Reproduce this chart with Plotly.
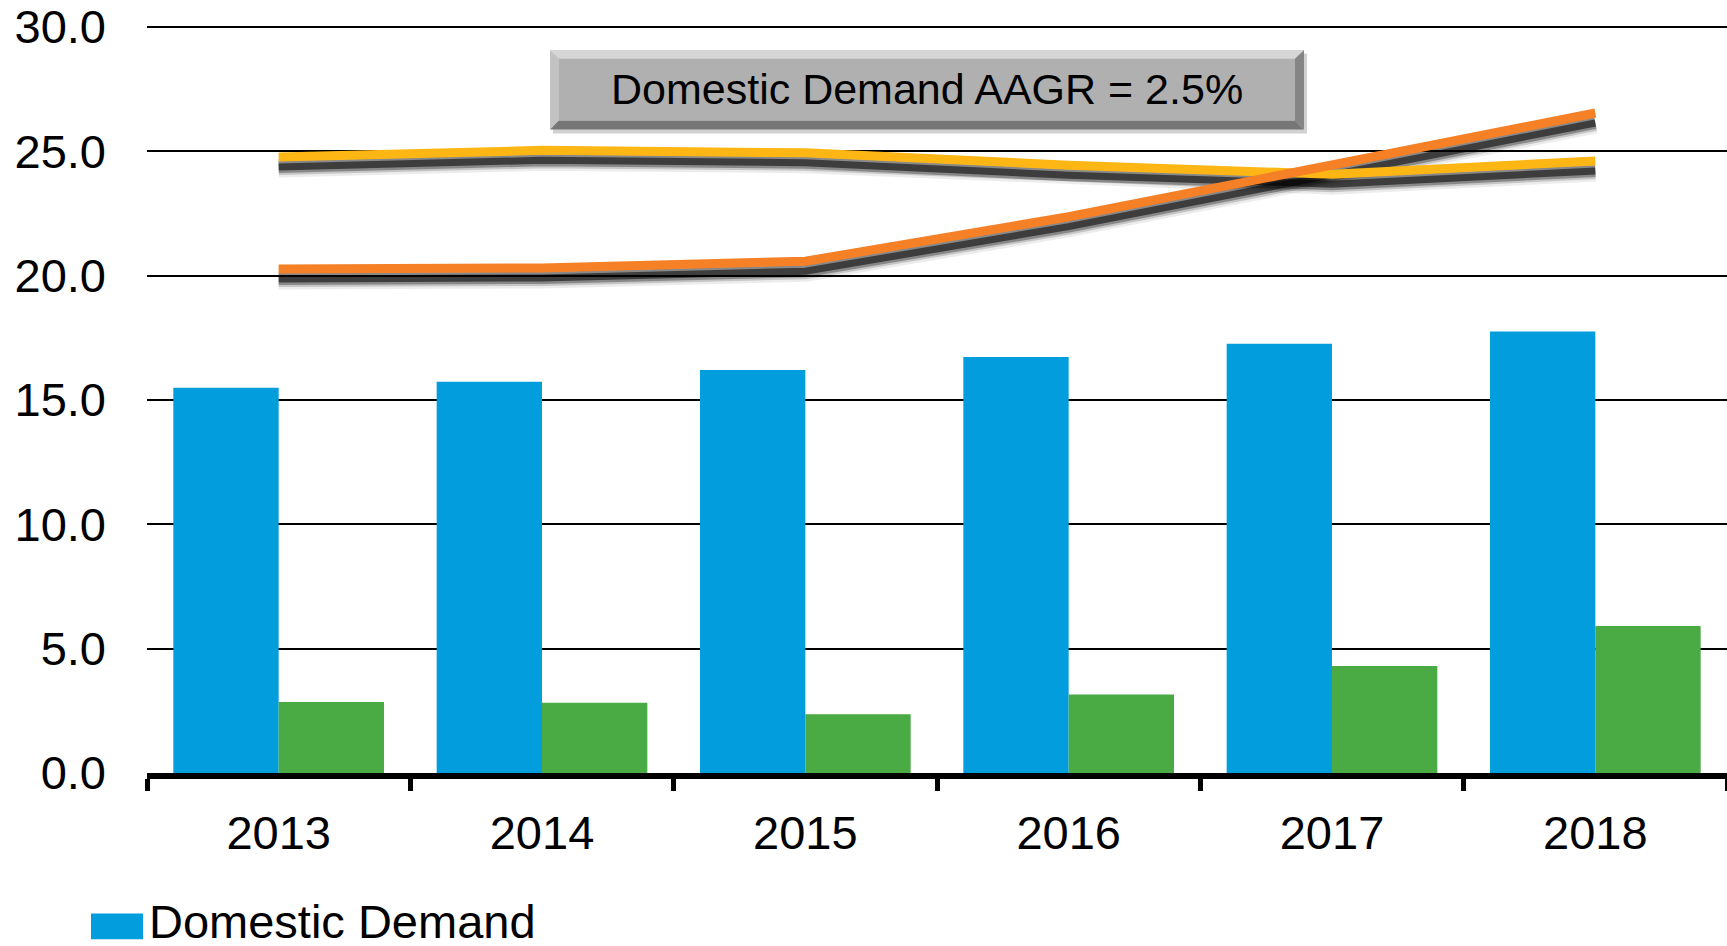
import plotly.graph_objects as go

# ---------------- data ----------------
years = ["2013", "2014", "2015", "2016", "2017", "2018"]
domestic_demand = [15.49, 15.73, 16.21, 16.73, 17.26, 17.75]
series_green = [2.86, 2.82, 2.36, 3.16, 4.30, 5.91]
series_yellow = [24.77, 25.04, 24.94, 24.44, 24.08, 24.61]
series_orange = [20.27, 20.31, 20.58, 22.37, 24.45, 26.54]
y_ticks = [0, 5, 10, 15, 20, 25, 30]
y_tick_labels = ["0.0", "5.0", "10.0", "15.0", "20.0", "25.0", "30.0"]
box_text = "Domestic Demand AAGR = 2.5%"
legend_text = "Domestic Demand"

# ---------------- layout geometry ----------------
W, H = 1727, 946
ML, MR, MT, MB = 147, 0, 18, 173
PW, PH = W - ML - MR, H - MT - MB
FONT = "Liberation Sans, Arial, Helvetica, sans-serif"
YMAX = 30.24
SHADOW_SHIFT = 10 * YMAX / PH  # ~10 px downward in data units


def px_x(p):
    return (p - ML) / PW


def px_y(p):
    return (H - MB - p) / PH


BLUE = "#019ddc"
GREEN = "#4aaa44"
ORANGE = "#f58026"
YELLOW = "#fdb614"

fig = go.Figure()

fig.add_trace(go.Bar(x=years, y=domestic_demand, name=legend_text,
                     marker=dict(color=BLUE, line=dict(width=0))))
fig.add_trace(go.Bar(x=years, y=series_green, name="Series 2",
                     marker=dict(color=GREEN, line=dict(width=0))))

# soft shadows for the lines (drawn on a slightly shifted overlay axis)
for vals in (series_yellow, series_orange):
    for w, op in ((21, 0.07), (16, 0.16), (12, 0.3), (7, 0.55)):
        fig.add_trace(go.Scatter(x=years, y=vals, mode="lines", yaxis="y2",
                                 line=dict(color="#000000", width=w),
                                 opacity=op, hoverinfo="skip", showlegend=False))

fig.add_trace(go.Scatter(x=years, y=series_yellow, mode="lines", yaxis="y3",
                         name="Series 3", line=dict(color=YELLOW, width=9)))
fig.add_trace(go.Scatter(x=years, y=series_orange, mode="lines", yaxis="y3",
                         name="Series 4", line=dict(color=ORANGE, width=9)))

# ---------------- bevelled text box ----------------
bx0, bx1, by0, by1, bev = 550, 1304, 47, 127, 9


def poly(pts, color):
    d = "M " + " L ".join(f"{px_x(a):.5f},{px_y(b):.5f}" for a, b in pts) + " Z"
    return dict(type="path", xref="paper", yref="paper", path=d,
                fillcolor=color, line=dict(width=0), layer="above")


shapes = [
    poly([(bx0 + 3, by0 + 4), (bx1 + 3, by0 + 4), (bx1 + 3, by1 + 4), (bx0 + 3, by1 + 4)], "rgba(0,0,0,0.18)"),
    poly([(bx0, by0), (bx1, by0), (bx1 - bev, by0 + bev), (bx0 + bev, by0 + bev)], "#d6d6d6"),
    poly([(bx0, by0), (bx0 + bev, by0 + bev), (bx0 + bev, by1 - bev), (bx0, by1)], "#c2c2c2"),
    poly([(bx0, by1), (bx0 + bev, by1 - bev), (bx1 - bev, by1 - bev), (bx1, by1)], "#767676"),
    poly([(bx1, by0), (bx1, by1), (bx1 - bev, by1 - bev), (bx1 - bev, by0 + bev)], "#858585"),
    poly([(bx0 + bev, by0 + bev), (bx1 - bev, by0 + bev), (bx1 - bev, by1 - bev), (bx0 + bev, by1 - bev)], "#b0b0b0"),
    # legend swatch
    poly([(91, 914), (143, 914), (143, 940), (91, 940)], BLUE),
]

annotations = [
    dict(text=box_text, xref="paper", yref="paper",
         x=px_x((bx0 + bx1) / 2), y=px_y((by0 + by1) / 2 - 1),
         xanchor="center", yanchor="middle", showarrow=False,
         font=dict(family=FONT, size=43, color="#000")),
    dict(text=legend_text, xref="paper", yref="paper",
         x=px_x(147), y=px_y(922), xanchor="left", yanchor="middle",
         showarrow=False, font=dict(family=FONT, size=47, color="#000")),
]

fig.update_layout(
    width=W, height=H,
    margin=dict(l=ML, r=MR, t=MT, b=MB, pad=0),
    paper_bgcolor="white", plot_bgcolor="white",
    barmode="group", bargap=0.2, bargroupgap=0,
    showlegend=False,
    font=dict(family=FONT, size=47, color="#000"),
    xaxis=dict(type="category", showgrid=False, zeroline=False,
               showline=True, linecolor="#000", linewidth=6,
               ticks="outside", tickson="boundaries", ticklen=12,
               tickwidth=5, tickcolor="#000",
               tickfont=dict(family=FONT, size=47, color="#000"),
               ticklabelstandoff=14),
    yaxis=dict(range=[0, YMAX], tickvals=y_ticks, ticktext=y_tick_labels,
               showgrid=True, gridcolor="#000", gridwidth=2,
               zeroline=False, showline=False, ticks="",
               tickfont=dict(family=FONT, size=47, color="#000"),
               ticklabelstandoff=40, ticklabeloverflow="allow"),
    yaxis2=dict(range=[SHADOW_SHIFT, YMAX + SHADOW_SHIFT], overlaying="y",
                visible=False),
    yaxis3=dict(range=[0, YMAX], overlaying="y", visible=False),
    shapes=shapes,
    annotations=annotations,
)

fig.write_html("out.html", config={"displayModeBar": False},
               post_script="document.body.style.margin='0';")
